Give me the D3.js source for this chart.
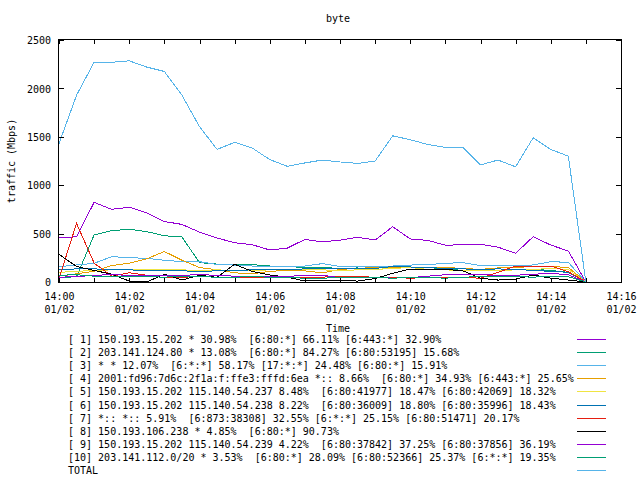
<!DOCTYPE html>
<html>
<head>
<meta charset="utf-8">
<script src="https://cdn.jsdelivr.net/npm/d3@7"></script>
<style>
  html, body { margin: 0; padding: 0; background: #fff; }
  svg text { font-family: "DejaVu Sans Mono", monospace; font-size: 10px; fill: #000; white-space: pre; }
</style>
</head>
<body>
<svg id="chart" width="640" height="480"></svg>
<script>
const dateStr = "2024-01-02";
const times = ["14:00:00","14:00:30","14:01:00","14:01:30","14:02:00","14:02:30","14:03:00","14:03:30",
  "14:04:00","14:04:30","14:05:00","14:05:30","14:06:00","14:06:30","14:07:00","14:07:30",
  "14:08:00","14:08:30","14:09:00","14:09:30","14:10:00","14:10:30","14:11:00","14:11:30",
  "14:12:00","14:12:30","14:13:00","14:13:30","14:14:00","14:14:30","14:15:00"];
const xDomain = ["14:00:00", "14:16:00"];
const yTicks = [0, 500, 1000, 1500, 2000, 2500];

const s1 = [455,468,823,751,772,715,625,595,515,455,405,385,331,350,440,415,432,462,434,571,445,430,380,385,390,360,296,468,382,320,0];
const s2 = [45,55,486,530,545,520,478,465,200,185,185,180,165,160,150,150,140,145,130,140,150,150,135,120,115,120,125,130,120,100,0];
const s3 = [158,176,193,262,251,245,225,210,210,180,175,165,160,155,165,190,160,160,160,165,175,180,193,200,170,170,170,176,210,203,0];
const s4 = [60,85,110,170,195,240,315,225,150,125,95,85,110,120,115,95,130,140,150,150,150,150,150,140,130,145,150,160,160,150,0];
const s5 = [100,110,120,125,130,130,130,125,120,125,120,120,125,125,130,125,120,125,130,140,150,130,125,120,120,120,125,130,140,130,0];
const s6 = [130,135,135,130,125,120,120,115,110,115,120,125,130,130,135,140,140,135,140,160,155,150,140,135,130,135,130,120,110,100,0];
const s7 = [35,606,195,60,95,70,45,50,55,50,50,45,50,55,45,50,60,55,50,45,40,45,50,45,40,100,165,158,165,107,0];
const s8 = [286,160,120,80,10,0,80,20,70,48,183,110,72,50,10,20,15,10,35,90,134,130,130,115,40,20,30,72,40,20,0];
const s9 = [50,55,70,75,70,70,65,70,75,70,60,55,60,60,65,70,45,50,50,40,45,60,75,75,75,70,70,80,90,75,0];
const s10 = [70,75,60,55,60,55,50,60,55,50,50,55,50,45,40,40,45,50,45,40,45,45,40,50,55,60,55,50,60,55,0];
const total = [1430,1930,2270,2270,2285,2220,2175,1930,1605,1370,1443,1384,1265,1195,1230,1260,1240,1225,1250,1510,1470,1420,1390,1390,1210,1260,1190,1490,1370,1300,0];

const labels = [
  "[ 1] 150.193.15.202 * 30.98%  [6:80:*] 66.11% [6:443:*] 32.90%",
  "[ 2] 203.141.124.80 * 13.08%  [6:80:*] 84.27% [6:80:53195] 15.68%",
  "[ 3] * * 12.07%  [6:*:*] 58.17% [17:*:*] 24.48% [6:80:*] 15.91%",
  "[ 4] 2001:fd96:7d6c:2f1a:f:ffe3:fffd:6ea *:: 8.66%  [6:80:*] 34.93% [6:443:*] 25.65%",
  "[ 5] 150.193.15.202 115.140.54.237 8.48%  [6:80:41977] 18.47% [6:80:42069] 18.32%",
  "[ 6] 150.193.15.202 115.140.54.238 8.22%  [6:80:36009] 18.80% [6:80:35996] 18.43%",
  "[ 7] *:: *:: 5.91%  [6:873:38308] 32.55% [6:*:*] 25.15% [6:80:51471] 20.17%",
  "[ 8] 150.193.106.238 * 4.85%  [6:80:*] 90.73%",
  "[ 9] 150.193.15.202 115.140.54.239 4.22%  [6:80:37842] 37.25% [6:80:37856] 36.19%",
  "[10] 203.141.112.0/20 * 3.53%  [6:80:*] 28.09% [6:80:52366] 25.37% [6:*:*] 19.35%",
  "TOTAL"
];
const colors = ["#9400d3","#009e73","#56b4e9","#e69f00","#f0e442","#0072b2","#e51e10","#000000","#9400d3","#009e73","#56b4e9"];
const seriesList = [s1,s2,s3,s4,s5,s6,s7,s8,s9,s10,total];

const parse = d3.utcParse("%Y-%m-%d %H:%M:%S");
const dates = times.map(t => parse(dateStr + " " + t));

const svg = d3.select("#chart");
svg.append("rect").attr("width",640).attr("height",480).attr("fill","#fff");

const L = 59, R = 621, T = 40, B = 282;
const x = d3.scaleUtc().domain(xDomain.map(t => parse(dateStr + " " + t))).range([L, R]);
const y = d3.scaleLinear().domain([0, 2500]).range([B, T]);

// data lines
const line = d3.line().x((d,i) => x(dates[i])).y(d => y(d));
seriesList.forEach((s, k) => {
  svg.append("path").datum(s)
    .attr("d", line)
    .attr("fill","none")
    .attr("stroke", colors[k])
    .attr("stroke-width", 1)
    .attr("shape-rendering","crispEdges");
});

// axes ticks
const minuteTicks = x.ticks(d3.utcMinute.every(1));
const gb = svg.append("g").attr("transform",`translate(0,${B})`)
  .call(d3.axisBottom(x).tickValues(minuteTicks).tickSize(-4).tickFormat(""));
const gt = svg.append("g").attr("transform",`translate(0,${T})`)
  .call(d3.axisTop(x).tickValues(minuteTicks).tickSize(-4).tickFormat(""));
const gl = svg.append("g").attr("transform",`translate(${L},0)`)
  .call(d3.axisLeft(y).tickValues(yTicks).tickSize(-5).tickPadding(8).tickFormat(d3.format("d")));
const gr = svg.append("g").attr("transform",`translate(${R},0)`)
  .call(d3.axisRight(y).tickValues(yTicks).tickSize(-5).tickFormat(""));
[gb,gt,gl,gr].forEach(g => {
  g.select(".domain").remove();
  g.selectAll("line").attr("stroke","#000").attr("shape-rendering","crispEdges");
  g.selectAll("text").attr("font-family",null).attr("font-size",null);
});
gl.selectAll("text").attr("dy","0.36em");

// x labels (two lines)
const fmtT = d3.utcFormat("%H:%M"), fmtD = d3.utcFormat("%m/%d");
const gx = svg.append("g").attr("transform",`translate(0,${B})`)
  .call(d3.axisBottom(x).ticks(d3.utcMinute.every(2)).tickSize(0).tickFormat(""));
gx.select(".domain").remove();
gx.selectAll(".tick line").remove();
gx.selectAll(".tick text").attr("y",null).attr("dy",null).attr("font-family",null).attr("font-size",null)
  .each(function(d){
    const t = d3.select(this);
    t.append("tspan").attr("x",0).attr("y",18).text(fmtT(d));
    t.append("tspan").attr("x",0).attr("y",31).text(fmtD(d));
  });

// border
svg.append("rect").attr("x",L-0.5).attr("y",T-0.5).attr("width",R-L+1).attr("height",B-T+1)
  .attr("fill","none").attr("stroke","#000").attr("stroke-width",1).attr("shape-rendering","crispEdges");

// titles
svg.append("text").attr("x",338).attr("y",22).attr("text-anchor","middle").text("byte");
svg.append("text").attr("x",338).attr("y",332).attr("text-anchor","middle").text("Time");
svg.append("text").attr("transform",`translate(15,${(T+B)/2}) rotate(-90)`).attr("text-anchor","middle").text("traffic (Mbps)");

// legend
labels.forEach((lab, k) => {
  const by = 343 + k*13.1;
  svg.append("text").attr("x",68).attr("y",by).text(lab);
  svg.append("line").attr("x1",577).attr("x2",606).attr("y1",Math.round(by-4)+0.5).attr("y2",Math.round(by-4)+0.5)
    .attr("stroke",colors[k]).attr("stroke-width",1).attr("shape-rendering","crispEdges");
});
</script>
</body>
</html>
